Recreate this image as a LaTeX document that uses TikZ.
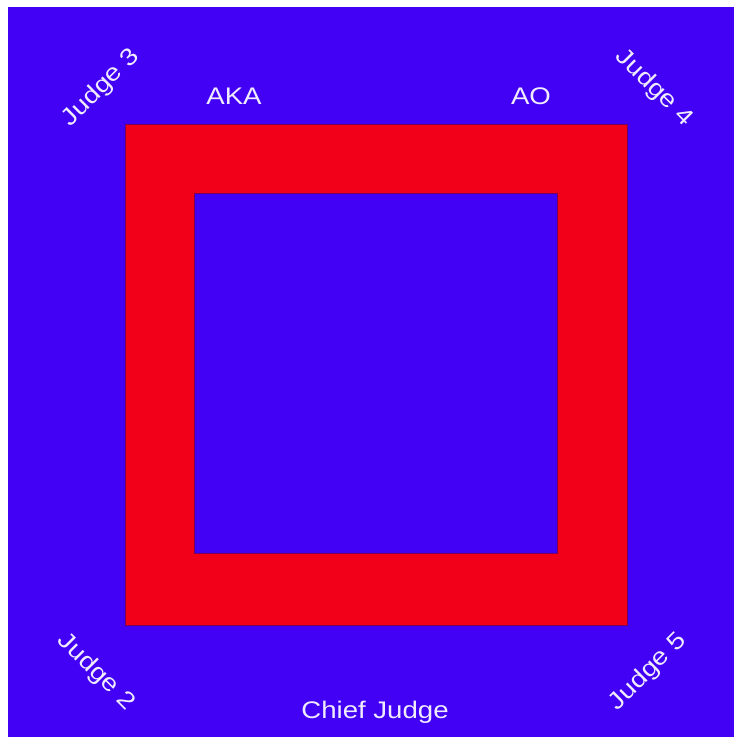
\documentclass[tikz,border=0pt]{standalone}
\usepackage{fontspec}
\setmainfont{Liberation Sans}
\definecolor{matblue}{RGB}{66,0,245}
\definecolor{matred}{RGB}{242,0,26}
\definecolor{edgec}{RGB}{120,0,90}
\definecolor{txt}{RGB}{240,236,255}
\begin{document}
\begin{tikzpicture}[x=1pt,y=-1pt,
  lab/.style={text=txt,font=\fontsize{24}{28}\selectfont,inner sep=0pt},
  area/.style={draw=edgec,line width=0.8pt}]
\useasboundingbox (0,0) rectangle (734,737);
\fill[white] (0,0) rectangle (734,737);
\fill[matblue] (8,7) rectangle (734,737);
\draw[area,fill=matred] (125,124) rectangle (627,625);
\draw[area,fill=matblue] (194,193) rectangle (557,553);
\node[lab,anchor=base] (aka) at (234,104) {\scalebox{1.15}[1]{AKA}};
\node[lab,anchor=base] (ao) at (531,104) {\scalebox{1.15}[1]{AO}};
\node[lab,anchor=base] (chief) at (375,718) {\scalebox{1.15}[1]{Chief Judge}};
\node[lab,rotate=45] (j3) at (101,88) {\scalebox{1.15}[1]{Judge 3}};
\node[lab,rotate=-45] (j4) at (654,88) {\scalebox{1.15}[1]{Judge 4}};
\node[lab,rotate=-45] (j2) at (96,672) {\scalebox{1.15}[1]{Judge 2}};
\node[lab,rotate=45] (j5) at (648,672) {\scalebox{1.15}[1]{Judge 5}};
\end{tikzpicture}
\end{document}
